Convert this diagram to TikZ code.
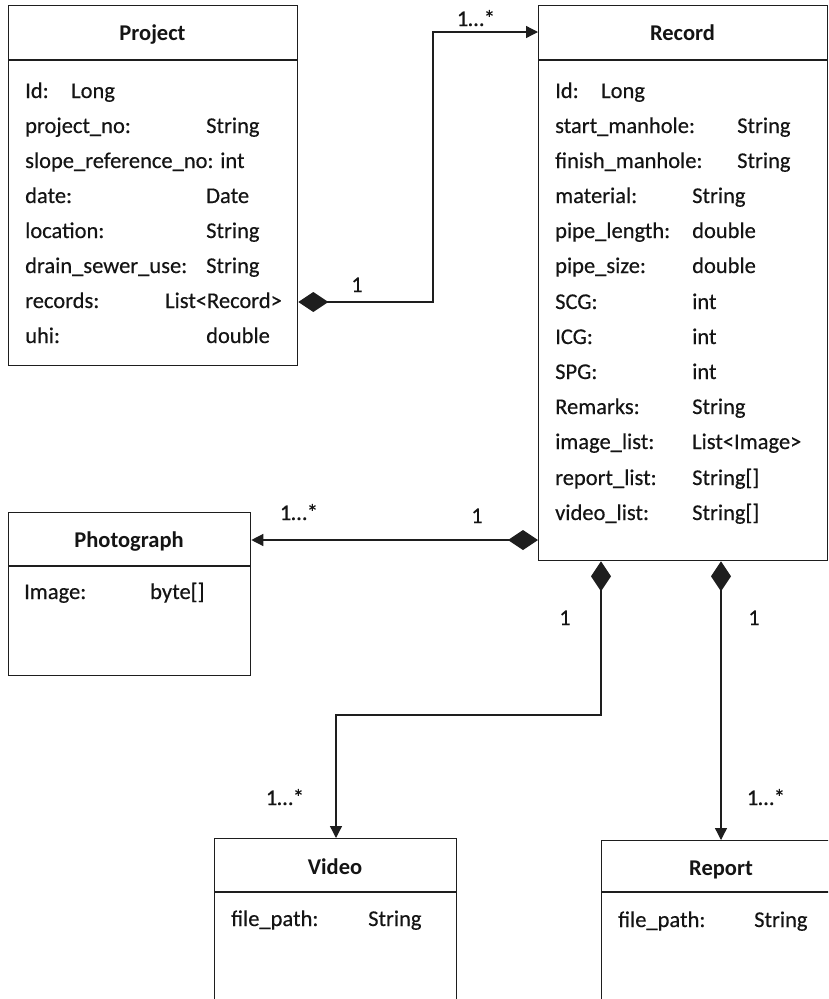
\documentclass[tikz,border=0pt]{standalone}
\usepackage{fontspec}
\setmainfont{Carlito}
\newfontfamily\umlfont{Carlito}[FakeBold=0.35]
\usetikzlibrary{arrows.meta}
\definecolor{linec}{RGB}{30,30,30}
\definecolor{textc}{RGB}{20,20,20}
\begin{document}
\begin{tikzpicture}[x=1pt,y=-1pt,
  classbox/.style={draw=linec, line width=1.3pt, fill=white, anchor=north west, inner sep=0pt},
  divider/.style={draw=linec, line width=1.3pt},
  title/.style={font=\fontsize{22.5}{26}\selectfont\bfseries, text=textc, anchor=base, inner sep=0pt},
  attr/.style={font=\umlfont\fontsize{22.5}{26}\selectfont, text=textc, anchor=base west, inner sep=0pt},
  mult/.style={font=\umlfont\fontsize{22.5}{26}\selectfont, text=textc, anchor=base, inner sep=0pt},
  compose/.style={draw=linec, line width=1.3pt,
    {Diamond[length=30pt,width=20pt]}-{Triangle[length=12pt,width=12pt]}}]
\useasboundingbox (0,0) rectangle (828,999);
\clip (0,0) rectangle (828,999);
\fill[white] (0,0) rectangle (828,999);

% ---- Project ----
\node[classbox, minimum width=289pt, minimum height=360pt] (project) at (8,5) {};
\draw[divider] ([yshift=-55pt]project.north west) -- ([yshift=-55pt]project.north east);
\node[title] (projectT) at (152.5,40) {Project};
\node[attr] (pa1) at (25,98) {Id:};
\node[attr] (pa1t) at (71,98) {Long};
\node[attr] (pa2) at (25,133) {project\_no:};
\node[attr] (pa2t) at (206,133) {String};
\node[attr] (pa3) at (25,168) {slope\_reference\_no: int};
\node[attr] (pa4) at (25,203) {date:};
\node[attr] (pa4t) at (206,203) {Date};
\node[attr] (pa5) at (25,238) {location:};
\node[attr] (pa5t) at (206,238) {String};
\node[attr] (pa6) at (25,273) {drain\_sewer\_use:};
\node[attr] (pa6t) at (206,273) {String};
\node[attr] (pa7) at (25,308) {records:};
\node[attr] (pa7t) at (165,308) {List<Record>};
\node[attr] (pa8) at (25,343) {uhi:};
\node[attr] (pa8t) at (206,343) {double};

% ---- Record ----
\node[classbox, minimum width=289pt, minimum height=555pt] (record) at (538,5) {};
\draw[divider] ([yshift=-55pt]record.north west) -- ([yshift=-55pt]record.north east);
\node[title] (recordT) at (682.5,40) {Record};
\node[attr] (ra1) at (555,98) {Id:};
\node[attr] (ra1t) at (601,98) {Long};
\node[attr] (ra2) at (555,133) {start\_manhole:};
\node[attr] (ra2t) at (737,133) {String};
\node[attr] (ra3) at (555,168) {finish\_manhole:};
\node[attr] (ra3t) at (737,168) {String};
\node[attr] (ra4) at (555,203) {material:};
\node[attr] (ra4t) at (692,203) {String};
\node[attr] (ra5) at (555,238) {pipe\_length:};
\node[attr] (ra5t) at (692,238) {double};
\node[attr] (ra6) at (555,273) {pipe\_size:};
\node[attr] (ra6t) at (692,273) {double};
\node[attr] (ra7) at (555,309) {SCG:};
\node[attr] (ra7t) at (692,309) {int};
\node[attr] (ra8) at (555,344) {ICG:};
\node[attr] (ra8t) at (692,344) {int};
\node[attr] (ra9) at (555,379) {SPG:};
\node[attr] (ra9t) at (692,379) {int};
\node[attr] (ra10) at (555,414) {Remarks:};
\node[attr] (ra10t) at (692,414) {String};
\node[attr] (ra11) at (555,449) {image\_list:};
\node[attr] (ra11t) at (692,449) {List<Image>};
\node[attr] (ra12) at (555,485) {report\_list:};
\node[attr] (ra12t) at (692,485) {String[]};
\node[attr] (ra13) at (555,520) {video\_list:};
\node[attr] (ra13t) at (692,520) {String[]};

% ---- Photograph ----
\node[classbox, minimum width=242pt, minimum height=163pt] (photo) at (8,512) {};
\draw[divider] ([yshift=-54pt]photo.north west) -- ([yshift=-54pt]photo.north east);
\node[title] (photoT) at (129,547) {Photograph};
\node[attr] (ph1) at (24,599) {Image:};
\node[attr] (ph1t) at (150,599) {byte[]};

% ---- Video ----
\node[classbox, minimum width=242pt, minimum height=200pt] (video) at (214,838) {};
\draw[divider] ([yshift=-54pt]video.north west) -- ([yshift=-54pt]video.north east);
\node[title] (videoT) at (335,874) {Video};
\node[attr] (vi1) at (231,926) {file\_path:};
\node[attr] (vi1t) at (368,926) {String};

% ---- Report ----
\node[classbox, minimum width=242pt, minimum height=200pt] (report) at (601,840) {};
\draw[divider] ([yshift=-52pt]report.north west) -- ([yshift=-52pt]report.north east);
\node[title] (reportT) at (721,875) {Report};
\node[attr] (re1) at (618,927) {file\_path:};
\node[attr] (re1t) at (754,927) {String};

% ---- connectors ----
\draw[compose] (project.east |- 0,302) -- (433,302) |- (record.west |- 0,32);
\node[mult] (m1a) at (357,292) {1};
\node[mult] (m1b) at (476,26) {1…*};

\draw[compose] (record.west |- 0,540) -- (photo.east |- 0,540);
\node[mult] (m2a) at (477,523) {1};
\node[mult] (m2b) at (299,520) {1…*};

\draw[compose] (record.south -| 601,0) -- (601,715) -| (video.north -| 336,0);
\node[mult] (m3a) at (565,625) {1};
\node[mult] (m3b) at (285,805) {1…*};

\draw[compose] (record.south -| 721,0) -- (report.north -| 721,0);
\node[mult] (m4a) at (754,625) {1};
\node[mult] (m4b) at (766,805) {1…*};
\end{tikzpicture}
\end{document}
